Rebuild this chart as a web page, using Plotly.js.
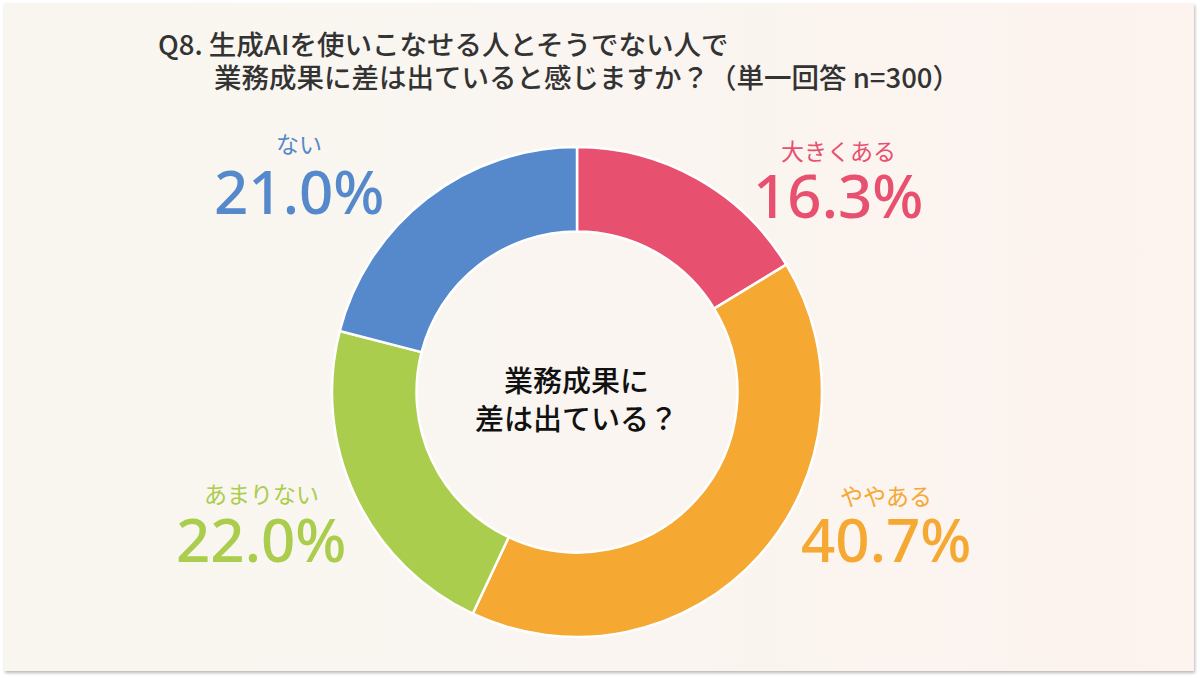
<!DOCTYPE html>
<html>
<head>
<meta charset="utf-8">
<script src="https://cdn.plot.ly/plotly-3.0.1.min.js"></script>
<style>
  html, body { margin: 0; padding: 0; background: #ffffff; }
  #card {
    position: absolute; left: 4px; top: 3px; width: 1190px; height: 668px;
    background: linear-gradient(90deg, #f9f6f0 0%, #faf5f0 55%, #fdf3ef 100%);
    box-shadow: 1px 2px 3px rgba(0,0,0,0.28);
  }
  #chart { position: absolute; left: 0; top: 0; width: 1200px; height: 678px; }
</style>
</head>
<body>
<div id="card"></div>
<div id="chart"></div>
<script>
// Survey answers, in clockwise order from 12 o'clock
const categories = ['大きくある', 'ややある', 'あまりない', 'ない'];
const shares = [16.3, 40.7, 22.0, 21.0];
const colors = ['#e8506f', '#f5a832', '#abcd4e', '#5589cb'];

const titleLines = [
  'Q8. 生成AIを使いこなせる人とそうでない人で',
  '業務成果に差は出ていると感じますか？（単一回答 n=300）'
];
const centerLines = ['業務成果に', '差は出ている？'];

// Label anchor positions in pixels (centre of each label block)
const W = 1200, H = 678;
const labelPos = [
  { x: 838, yName: 150, yPct: 195 },
  { x: 886, yName: 495, yPct: 539 },
  { x: 261, yName: 493, yPct: 539 },
  { x: 299, yName: 143, yPct: 191 }
];

const px = v => v / W;
const py = v => 1 - v / H;

const jp = 'Noto Sans CJK JP, Noto Sans, sans-serif';

const annotations = [];

// title, two indented lines
annotations.push({
  text: titleLines[0], xref: 'paper', yref: 'paper', x: px(156), y: py(43),
  xanchor: 'left', yanchor: 'middle', showarrow: false,
  font: { family: jp, size: 27.5, color: '#333333', weight: 500 }
});
annotations.push({
  text: titleLines[1], xref: 'paper', yref: 'paper', x: px(212), y: py(76),
  xanchor: 'left', yanchor: 'middle', showarrow: false,
  font: { family: jp, size: 27.5, color: '#333333', weight: 500 }
});

// question in the hole
annotations.push({
  text: centerLines.join('<br>'), xref: 'paper', yref: 'paper', x: px(576), y: py(398),
  xanchor: 'center', yanchor: 'middle', showarrow: false, align: 'center',
  font: { family: jp, size: 29, color: '#111111', weight: 500 }
});

// category name + share for each slice
categories.forEach((c, i) => {
  const p = labelPos[i];
  annotations.push({
    text: c, xref: 'paper', yref: 'paper', x: px(p.x), y: py(p.yName),
    xanchor: 'center', yanchor: 'middle', showarrow: false,
    font: { family: jp, size: 23, color: colors[i] }
  });
  annotations.push({
    text: shares[i].toFixed(1) + '%', xref: 'paper', yref: 'paper', x: px(p.x), y: py(p.yPct),
    xanchor: 'center', yanchor: 'middle', showarrow: false,
    font: { family: 'Noto Sans, sans-serif', size: 60, color: colors[i], weight: 500 }
  });
});

const trace = {
  type: 'pie',
  labels: categories,
  values: shares,
  sort: false,
  direction: 'clockwise',
  rotation: 0,
  hole: 0.655,
  textinfo: 'none',
  hoverinfo: 'skip',
  marker: { colors: colors, line: { color: '#ffffff', width: 2.5 } },
  domain: { x: [px(332), px(822)], y: [py(637), py(147)] }
};

const layout = {
  width: W, height: H,
  margin: { l: 0, r: 0, t: 0, b: 0 },
  paper_bgcolor: 'rgba(0,0,0,0)',
  plot_bgcolor: 'rgba(0,0,0,0)',
  showlegend: false,
  annotations: annotations
};

Plotly.newPlot('chart', [trace], layout, { displayModeBar: false, staticPlot: true });
</script>
</body>
</html>
